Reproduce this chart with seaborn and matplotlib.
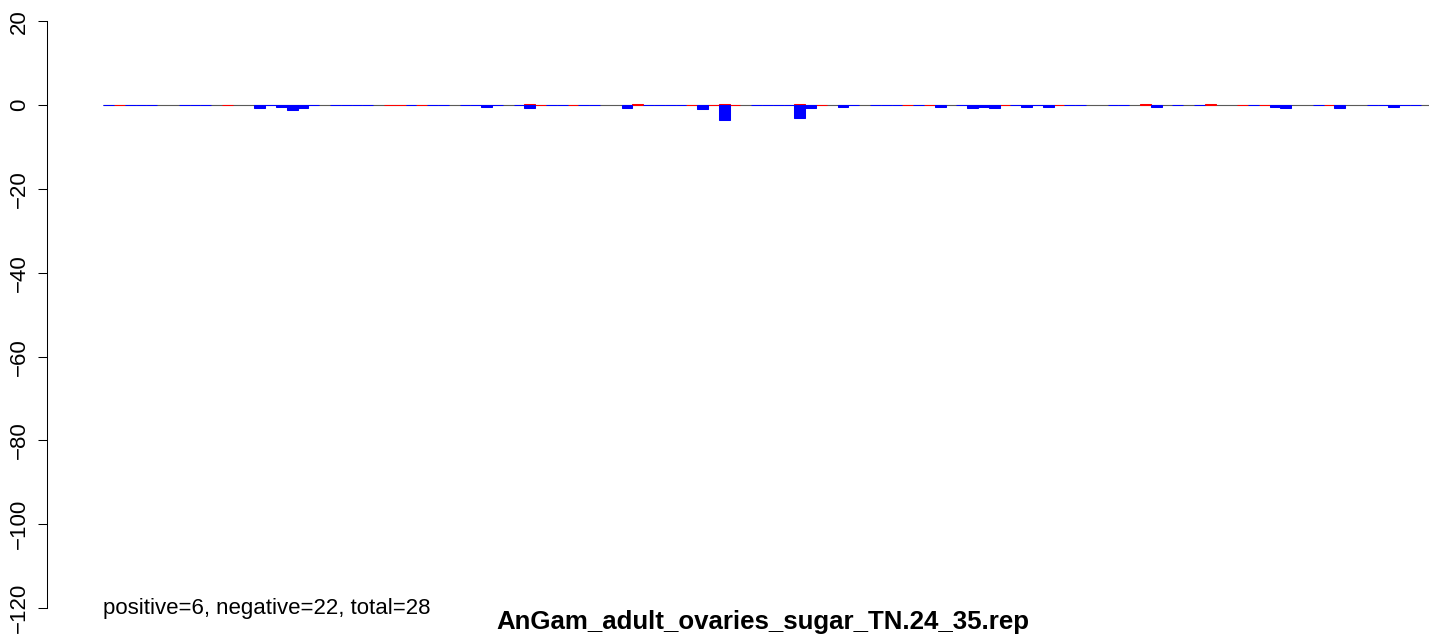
import matplotlib
matplotlib.use("Agg")
import matplotlib.pyplot as plt
import seaborn as sns
import pandas as pd
import numpy as np

# per-bin small RNA values along the repeat (None = no reads mapped)
plus = [None, 0, None, None, None, None, None, None, None, None,
        None, 0, None, None, None, None, None, None, None, None,
        None, None, None, None, None, None, 0, 0, None, 0,
        None, None, None, None, None, None, None, None, None, 0.3,
        0, None, None, 0, None, None, None, None, None, 0.3,
        None, None, None, None, 0, None, 0, 0.3, 0, None,
        None, None, None, None, 0.3, None, 0, None, None, None,
        None, None, None, None, 0, None, 0, None, None, None,
        None, None, None, 0, None, None, None, None, 0, None,
        None, None, None, None, None, None, 0.3, None, None, None,
        None, None, 0.3, None, None, 0, None, 0, None, None,
        None, None, None, 0, None, None, None, None, None, None,
        None, None]

minus = [0, None, 0, 0, 0, None, None, 0, 0, 0,
         None, None, None, None, -0.64, 0, -0.4, -1.1, -0.55, 0,
         None, 0, 0, 0, 0, None, None, None, 0, None,
         0, 0, None, 0, 0, -0.4, 0, None, 0, -0.64,
         None, 0, 0, None, 0, 0, None, None, -0.64, None,
         0, 0, 0, 0, None, -0.9, None, -3.5, None, None,
         0, 0, 0, 0, -3.0, -0.64, None, None, -0.4, 0,
         None, 0, 0, 0, None, 0, None, -0.4, None, 0,
         -0.64, -0.4, -0.64, None, 0, -0.4, 0, -0.4, None, 0,
         0, None, None, 0, 0, None, None, -0.4, None, 0,
         None, 0, None, None, None, None, 0, None, -0.4, -0.64,
         None, None, 0, None, -0.64, None, None, 0, 0, -0.4,
         0, 0]

y_ticks = [20, 0, -20, -40, -60, -80, -100, -120]
n_pos, n_neg = 6, 22
title = "AnGam_adult_ovaries_sugar_TN.24_35.rep"

df = pd.DataFrame({"bin": np.arange(len(plus)),
                   "plus": pd.array(plus, dtype="Float64").astype(float),
                   "minus": pd.array(minus, dtype="Float64").astype(float)})

sns.set_style("ticks")
plt.rcParams["font.family"] = ["Liberation Sans", "DejaVu Sans"]
plt.rcParams["text.color"] = "black"

W, H = 1429, 635
fig = plt.figure(figsize=(W / 100, H / 100), dpi=100)
ax = fig.add_axes([47 / W, 6 / H, 1 - 47 / W, 628.5 / H])

# baseline over the whole repeat
ax.hlines(0, -0.5, len(plus) + 5, color="#5a5a5a", lw=0.8, zorder=1)

sns.barplot(data=df.dropna(subset=["plus"]), x="bin", y="plus", native_scale=True,
            width=1, color="red", saturation=1, edgecolor="red", linewidth=0.75,
            errorbar=None, ax=ax, zorder=2)
sns.barplot(data=df.dropna(subset=["minus"]), x="bin", y="minus", native_scale=True,
            width=1, color="blue", saturation=1, edgecolor="blue", linewidth=0.75,
            errorbar=None, ax=ax, zorder=3)

ax.set_xlim(-5.71, 122.25)
ax.set_ylim(-125, 25)
ax.set_xticks([])
ax.set_yticks(y_ticks)
ax.set_yticklabels([str(t).replace("-", "\u2212") for t in y_ticks],
                   rotation=90, va="center", fontsize=16)
ax.tick_params(axis="y", length=6.5, width=0.75, pad=6, colors="black")
ax.set_xlabel("")
ax.set_ylabel("")
for s in ["top", "right", "bottom"]:
    ax.spines[s].set_visible(False)
ax.spines["left"].set_bounds(-120, 20)
ax.spines["left"].set_linewidth(0.75)
ax.spines["left"].set_color("black")

ax.text(-0.5, -120, f"positive={n_pos}, negative={n_neg}, total={n_pos + n_neg}",
        ha="left", va="center", fontsize=16)
fig.text(763 / W, 1 - 622 / H, title, ha="center", va="center",
         fontsize=18.6, fontweight="bold")

fig.savefig("out.png", dpi=100)
